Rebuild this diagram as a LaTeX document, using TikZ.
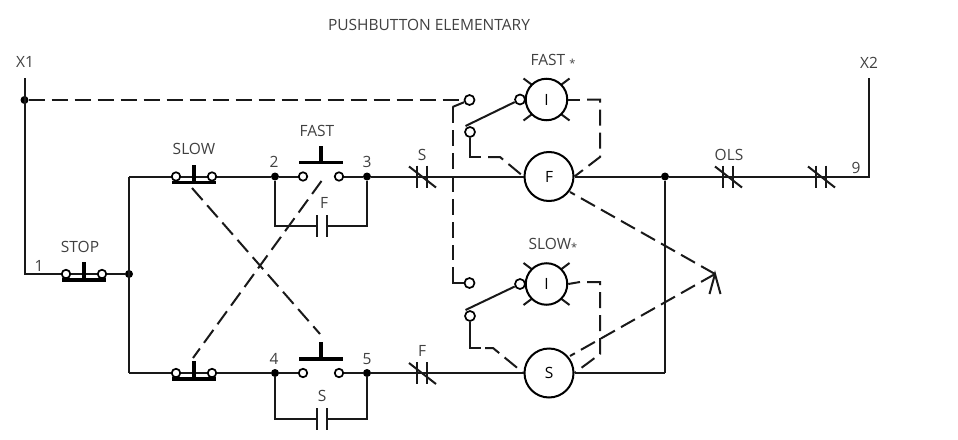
\documentclass[tikz,border=0pt]{standalone}
\usepackage{fontspec}
\setmainfont{Open Sans}
\newcommand{\smallstar}{{\fontsize{11}{11}\selectfont\raisebox{-1.5pt}{*}}}
\tikzset{
  x=1pt,y=-1pt,
  wire/.style={line width=2pt,black!90},
  dashwire/.style={line width=2pt,black!90,dash pattern=on 16pt off 7pt},
  term/.style={circle,draw=black,line width=1.7pt,fill=white,inner sep=0pt,minimum size=#1},
  term/.default=8.5pt,
  dot/.style={circle,fill=black,inner sep=0pt,minimum size=8pt},
  coil/.style={circle,draw=black,line width=2pt,fill=white,inner sep=0pt,minimum size=49pt,font=\fontsize{15.5}{15.5}\selectfont},
  lamp/.style={circle,draw=black,line width=2pt,fill=white,inner sep=0pt,minimum size=41.5pt,font=\fontsize{15.5}{15.5}\selectfont},
  lbl/.style={inner sep=0pt,text=black!75,font=\fontsize{15.5}{15.5}\selectfont},
  barline/.style={line width=3.2pt,black},
  pbnc/.pic={
    \node[term] (-l) at (-18,0) {};
    \node[term] (-r) at (18,0) {};
    \draw[barline] (-22,6) -- (22,6);
    \draw[barline] (0,6) -- (0,-12);
  },
  pbno/.pic={
    \node[term] (-l) at (-18,0) {};
    \node[term] (-r) at (18,0) {};
    \draw[barline] (-22,-14) -- (22,-14);
    \draw[barline] (0,-14) -- (0,-31);
  },
  ncc/.pic={
    \draw[wire] (-5,-11) -- (-5,11);
    \draw[wire] (5,-11) -- (5,11);
    \draw[wire] (-13,-10) -- (14,11);
  },
  noc/.pic={
    \draw[wire] (-5,-11) -- (-5,11);
    \draw[wire] (5,-11) -- (5,11);
  },
  rays/.pic={
    \draw[wire] (-23,-21) -- (-15,-15);
    \draw[wire] (23,-21) -- (15,-15);
    \draw[wire] (-23,21) -- (-15,15);
    \draw[wire] (23,21) -- (15,15);
  }
}
\begin{document}
\begin{tikzpicture}
\useasboundingbox (0,0) rectangle (958,439);
% labels
\node[lbl] (title) at (429,24.5) {PUSHBUTTON ELEMENTARY};
\node[lbl] (lx1) at (25,62) {X1};
\node[lbl] (lx2) at (869,63) {X2};
\node[lbl] (lstop) at (80,247) {STOP};
\node[lbl] (lslow) at (194,148.5) {SLOW};
\node[lbl] (lfast) at (317,131) {FAST};
\node[lbl] (lone) at (39,266) {1};
\node[lbl] (ltwo) at (274,162) {2};
\node[lbl] (lthree) at (367,162) {3};
\node[lbl] (lfour) at (274,359) {4};
\node[lbl] (lfive) at (367,359) {5};
\node[lbl] (lnine) at (856,168) {9};
\node[lbl] (lcf) at (324,203) {F};
\node[lbl] (lcs) at (322,396) {S};
\node[lbl] (lns) at (422,155) {S};
\node[lbl] (lnf) at (422,351) {F};
\node[lbl] (lols) at (729,155) {OLS};
\node[lbl] (lfl) at (553,61) {FAST \smallstar};
\node[lbl] (lsl) at (553,245) {SLOW\smallstar};
% named points
\coordinate (x1top) at (24.5,78);
\coordinate (x1bot) at (24.5,274);
\coordinate (x2top) at (869,78);
\coordinate (x2bot) at (869,176.5);
\node[dot] (jx) at (24.5,100) {};
\node[dot] (j1) at (129,274) {};
\node[dot] (j2) at (275,176.5) {};
\node[dot] (j3) at (367,176.5) {};
\node[dot] (j4) at (275,373) {};
\node[dot] (j5) at (367,373) {};
\node[dot] (j6) at (665,176.5) {};
\coordinate (jb) at (665,373);
\coordinate (tl) at (129,176.5);
\coordinate (bl) at (129,373);
\coordinate (f1) at (275,226);
\coordinate (f2) at (367,226);
\coordinate (fc1) at (317,226);
\coordinate (fc2) at (327,226);
\coordinate (s1) at (275,419);
\coordinate (s2) at (367,419);
\coordinate (sc1) at (317,419);
\coordinate (sc2) at (327,419);
\coordinate (apex) at (715,274);
\coordinate (ah1) at (709.5,294);
\coordinate (ah2) at (720.5,294);
% dashed mechanical links (under)
\coordinate (dslowt) at (192,188);
\coordinate (dslowb) at (320,334);
\coordinate (dfastt) at (321.5,181);
\coordinate (dfastb) at (193,358);
\draw[dashwire] (dslowt) -- (dslowb);
\draw[dashwire] (dfastt) -- (dfastb);
% wiring
\draw[wire] (x1top) -- (x1bot) -- (84,274);
\draw[wire] (x2top) -- (x2bot) -- (j6);
\draw[wire] (tl) -- (bl);
\draw[wire] (tl) -- (j2);
\draw[wire] (bl) -- (j4);
\draw[wire] (j1) -- (84,274);
\draw[wire] (j2) -- (303,176.5);
\draw[wire] (339,176.5) -- (j3);
\draw[wire] (j4) -- (303,373);
\draw[wire] (339,373) -- (j5);
\draw[wire] (j2) -- (f1) -- (fc1);
\draw[wire] (j3) -- (f2) -- (fc2);
\draw[wire] (j4) -- (s1) -- (sc1);
\draw[wire] (j5) -- (s2) -- (sc2);
\draw[wire] (j6) -- (jb);
\pic at (322,226) {noc};
\pic at (322,419) {noc};
\pic at (422,176.5) {ncc};
\pic at (422,373) {ncc};
\pic at (728,176.5) {ncc};
\pic at (821,176.5) {ncc};
% coils
\node[coil] (F) at (549,176.5) {F};
\node[coil] (S) at (549,373) {S};
\draw[wire] (j3) -- (F);
\draw[wire] (j5) -- (S);
\draw[wire] (F) -- (j6);
\draw[wire] (S) -- (jb);
% pushbuttons
\pic (stop) at (84,274) {pbnc};
\pic (slowt) at (194,176.5) {pbnc};
\pic (slowb) at (194,373) {pbnc};
\pic (fast) at (321,176.5) {pbno};
\pic (slowno) at (321,373) {pbno};
% lamps
\pic at (546.5,99.5) {rays};
\pic at (546.5,284) {rays};
\node[term=10pt] (a2) at (520,99.5) {};
\node[term=10pt] (b2) at (520,284) {};
\node[lamp] (LF) at (546.5,99.5) {I};
\node[lamp] (LS) at (546.5,284) {I};
\node[term=10pt] (a1) at (469.5,100) {};
\node[term=10pt] (a3) at (470,132) {};
\node[term=10pt] (b1) at (469.5,283) {};
\node[term=10pt] (b3) at (470,316) {};
% selector switches
\coordinate (cx) at (452.5,107);
\coordinate (cy) at (452.5,283);
\draw[dashwire] (jx) -- (a1);
\draw[wire] (a1) -- (cx);
\draw[dashwire] (cx) -- (452.5,260);
\draw[wire] (452.5,267) -- (cy) -- (b1);
\draw[wire] (a2) -- (465.5,126);
\draw[wire] (b2) -- (465.5,310);
\coordinate (a4) at (470,157);
\coordinate (a5) at (500,157);
\coordinate (b4) at (470,348);
\coordinate (b5) at (493,348);
\draw[wire] (a3) -- (a4) -- (481,157);
\draw[wire] (b3) -- (b4) -- (481,348);
\draw[dashwire] (488,157) -- (a5) -- (F.west);
\draw[dashwire] (485,348) -- (b5) -- (S.west);
\coordinate (a6) at (600,99.5);
\coordinate (a7) at (600,157);
\coordinate (b6) at (600,282);
\coordinate (b7) at (600,354);
\draw[wire] (LF.east) -- (580,99.5);
\draw[wire] (LS.east) -- (580,282);
\draw[dashwire] (587,99.5) -- (a6) -- (a7) -- (F.east);
\draw[dashwire] (587,282) -- (b6) -- (b7) -- (S.east);
% apex links
\draw[dashwire] (apex) -- (570,192);
\draw[dashwire] (apex) -- (570,356);
\draw[wire] (ah1) -- (apex) -- (ah2);
\end{tikzpicture}
\end{document}
